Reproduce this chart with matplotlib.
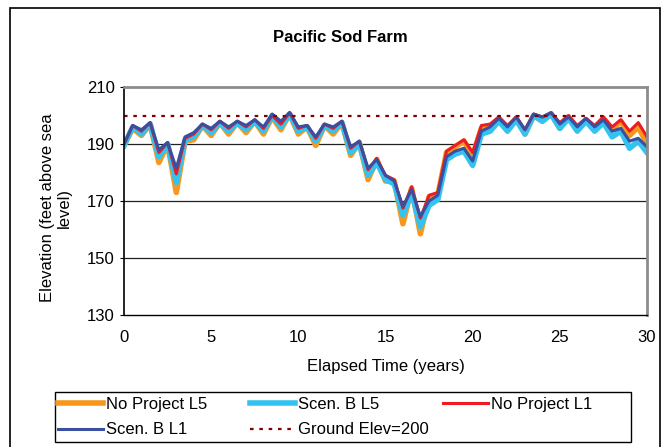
import matplotlib.pyplot as plt
from matplotlib.patches import Rectangle

plt.rcParams['font.family'] = ['Liberation Sans', 'DejaVu Sans']

# elapsed time (years), half-year steps
years = [i * 0.5 for i in range(61)]

no_project_l5 = [189.5, 195.5, 193, 197, 183.5, 190, 173, 191, 191.5, 196.5,
                 193, 197.5, 193.5, 197.5, 194, 198, 193.5, 199.5, 195, 200.5,
                 193.5, 196, 189.5, 196.5, 193.5, 197.5, 186, 190.5, 177.5, 184.5,
                 177, 177, 162, 174.5, 158.5, 171.5, 172, 187, 189, 191,
                 186, 195.5, 195.5, 199, 195, 199, 193.5, 200, 198, 200.5,
                 195.5, 199.5, 195, 198.5, 195.5, 199, 195, 198, 193, 196,
                 190]
scen_b_l5 = [189.5, 196, 193.5, 197, 185.5, 190, 176.5, 191.5, 192.5, 196.5,
             194, 197.5, 194.5, 197.5, 195, 198, 194.5, 200, 196, 200.5,
             194.5, 196, 191, 196.5, 194.5, 197.5, 187, 190, 179, 183.5,
             177.5, 176, 165, 173, 161, 168.5, 170.5, 184.5, 186.5, 187.5,
             182.5, 193.5, 194.5, 198, 194.5, 198.5, 193.5, 200, 198, 200.5,
             195.5, 199, 194.5, 198, 194.5, 197.5, 192.5, 194.5, 188.5, 191,
             187]
no_project_l1 = [190, 196.5, 194.5, 197.5, 187, 190.5, 179.5, 192, 193.5, 197,
                 195, 198, 195.5, 198, 196, 198.5, 195.5, 200, 197, 201,
                 195.5, 196.5, 192, 197, 195.5, 198, 188.5, 191, 181, 185,
                 179, 177.5, 167.5, 175, 164, 172, 173, 187.5, 189.5, 191.5,
                 187, 196.5, 197, 199.5, 196.5, 199.5, 195, 200.5, 199.5, 201,
                 197.5, 200, 196.5, 199, 196.5, 199.5, 196, 198.5, 194.5, 197.5,
                 192.5]
scen_b_l1 = [190, 196.5, 195, 197.5, 188, 190.5, 181.5, 192.5, 194, 197,
             195.5, 198, 196, 198, 196.5, 198.5, 196, 200.5, 198, 201,
             196, 196.5, 192.5, 197, 196, 198, 189, 191, 181.5, 184.5,
             179, 177, 168, 174, 164.5, 170, 172, 185.5, 187.5, 188.5,
             184, 194.5, 196, 199, 196, 199.5, 195, 200.5, 199.5, 201,
             197, 199.5, 196, 199, 196, 198.5, 194.5, 195.5, 191, 192,
             189]
ground_elev = 200

W, H = 666, 447
fig = plt.figure(figsize=(W / 100, H / 100), dpi=100)
ax = fig.add_axes([124 / W, 1 - 315 / H, 523 / W, 228 / H])

l_o, = ax.plot(years, no_project_l5, color='#F7981D', lw=4.0, label='No Project L5')
l_c, = ax.plot(years, scen_b_l5, color='#33C3F0', lw=4.0, label='Scen. B L5')
l_r, = ax.plot(years, no_project_l1, color='#ED1C24', lw=2.2, label='No Project L1')
l_b, = ax.plot(years, scen_b_l1, color='#3B4FA0', lw=2.2, label='Scen. B L1')
l_g = ax.axhline(ground_elev, color='#800000', lw=1.6, ls=(0, (1.6, 2.6)),
                 label='Ground Elev=200')

ax.set_xlim(0, 30)
ax.set_ylim(130, 210)
ax.set_xticks(range(0, 31, 5))
ax.set_yticks(range(130, 211, 20))
for y in (150, 170, 190):
    ax.axhline(y, color='#202020', lw=0.9, zorder=0)
ax.tick_params(axis='both', labelsize=12, direction='out', length=3, width=0.8)
ax.tick_params(axis='x', length=0, pad=11)
for s in ('top', 'right'):
    ax.spines[s].set_color('#8C8C8C')
    ax.spines[s].set_linewidth(2)
ax.spines['left'].set_linewidth(1.2)
ax.spines['bottom'].set_linewidth(1.0)

fig.text(340 / W, 1 - 37 / H, 'Pacific Sod Farm', ha='center', va='center',
         fontsize=12, fontweight='bold')
fig.text(385.5 / W, 1 - 367 / H, 'Elapsed Time (years)', ha='center',
         va='center', fontsize=12)
fig.text(56 / W, 1 - 208 / H, 'Elevation (feet above sea\nlevel)', ha='center',
         va='center', rotation=90, fontsize=12, multialignment='center',
         linespacing=1.1)

# legend: three columns with equal spacing, like the spreadsheet legend
columns = [([l_o, l_b], ['No Project L5', 'Scen. B L1'], 58),
           ([l_c, l_g], ['Scen. B L5', 'Ground Elev=200'], 250),
           ([l_r], ['No Project L1'], 443)]
for handles, labels, x0 in columns:
    fig.legend(handles, labels, loc='upper left',
               bbox_to_anchor=(x0 / W, 1 - 397 / H), fontsize=12,
               frameon=False, handlelength=2.7, handletextpad=0.18,
               labelspacing=0.62, borderpad=0, borderaxespad=0)
fig.patches.append(Rectangle((55 / W, 1 - 442 / H), 576 / W, 50 / H,
                             transform=fig.transFigure, fill=False,
                             edgecolor='black', lw=1.0))

fig.patches.append(Rectangle((10 / W, -0.01), 650 / W, 1 - 8 / H + 0.01,
                             transform=fig.transFigure, fill=False,
                             edgecolor='black', lw=1.2))

fig.savefig('out.png', dpi=100)
